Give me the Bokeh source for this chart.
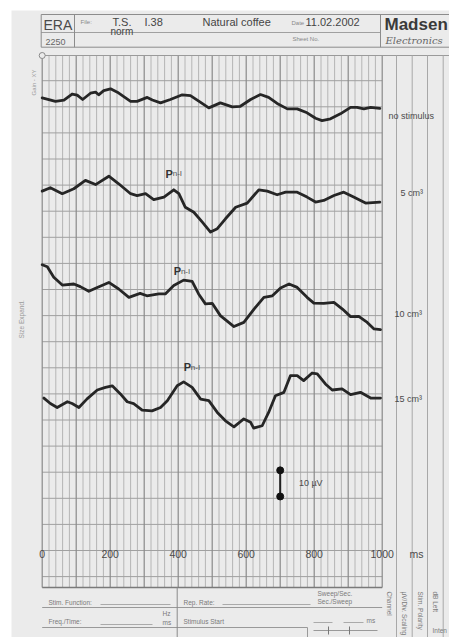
import math
from bokeh.plotting import figure
from bokeh.models import Range1d
from bokeh.core.properties import value
from bokeh.embed import file_html
from bokeh.resources import INLINE

# ---------------- data ----------------
trace_names = ["no stimulus", "5 cm³", "10 cm³", "15 cm³"]
trace_offsets = [170, 140, 100, 60]          # µV position of each trace baseline on the grid

t_no_stim = [0, 39, 64, 88, 103, 119, 142, 157, 166, 181, 201, 221, 260, 279, 309, 324, 348, 377,
             412, 436, 466, 490, 524, 559, 583, 613, 642, 666, 691, 721, 750, 779, 804, 823, 848,
             877, 907, 926, 946, 966, 993]
v_no_stim = [3.4, 2.1, 2.6, 4.9, 4.5, 2.8, 5.2, 5.6, 4.6, 6.2, 6.9, 5.6, 2.1, 2.1, 3.6, 2.6, 1.5, 2.8,
             4.6, 4.3, 1.7, -0.4, 1.5, 0.0, 0.2, 2.8, 4.7, 3.6, 1.3, -0.8, -0.8, -2.3, -4.4, -5.3, -4.6,
             -2.7, -0.2, -0.2, -0.8, -0.2, -0.6]

t_5cm = [0, 24, 59, 93, 127, 157, 196, 225, 260, 279, 304, 328, 358, 387, 402, 421, 446, 471, 495,
         515, 539, 569, 603, 637, 662, 691, 716, 750, 779, 804, 828, 858, 887, 916, 951, 993]
v_5cm = [-2.3, -1.0, -3.3, -1.4, 1.8, 0.2, 3.4, 0.5, -3.3, -4.0, -3.3, -5.6, -4.6, -1.8, -3.3, -8.5,
         -10.4, -14.2, -18.0, -16.7, -12.9, -8.5, -6.9, -1.8, -2.3, -3.7, -2.7, -2.7, -4.6, -6.5, -5.9,
         -4.0, -2.7, -4.6, -6.9, -6.5]

t_10cm = [0, 15, 34, 59, 93, 112, 137, 162, 196, 225, 255, 288, 308, 343, 362, 387, 416, 441, 460,
          480, 500, 524, 564, 593, 623, 652, 677, 701, 726, 750, 779, 799, 828, 858, 883, 907, 931,
          956, 976, 995]
v_10cm = [9.5, 8.7, 4.7, 1.7, 2.1, 1.1, -0.7, 0.8, 2.7, 0.2, -3.0, -1.5, -2.4, -1.7, -1.7, 1.5, 3.6,
          3.1, -1.7, -5.5, -5.3, -10.0, -14.2, -12.6, -7.5, -3.0, -2.4, 0.6, 2.1, 0.8, -3.0, -5.2,
          -5.3, -4.9, -7.5, -10.4, -10.3, -12.6, -15.1, -15.4]

t_15cm = [5, 24, 44, 74, 88, 108, 132, 162, 186, 206, 230, 250, 269, 294, 323, 348, 368, 397, 416,
          441, 466, 490, 515, 539, 564, 593, 613, 622, 647, 666, 686, 711, 730, 750, 769, 794, 809,
          833, 853, 882, 907, 936, 966, 995]
v_15cm = [-1.6, -3.7, -5.2, -3.0, -3.7, -5.2, -1.9, 1.5, 2.5, 3.1, 0.0, -3.0, -3.7, -6.2, -6.5, -5.2,
          -2.6, 3.1, 4.6, 2.5, -2.0, -2.6, -7.1, -10.3, -12.6, -9.6, -10.9, -13.1, -12.2, -7.1, -0.7,
          0.6, 7.0, 7.0, 5.1, 8.0, 7.7, 3.8, 1.5, 1.9, -0.3, 0.6, -1.6, -1.6]

traces_t = [t_no_stim, t_5cm, t_10cm, t_15cm]
traces_v = [v_no_stim, v_5cm, v_10cm, v_15cm]

# P(n-I) peak labels: (ms, µV on grid)
peak_label_ms = [363, 387, 416]
peak_label_uv = [144.4, 107.0, 70.2]

x_tick_values = [0, 200, 400, 600, 800, 1000]
x_tick_labels = ["0", "200", "400", "600", "800", "1000"]
x_unit = "ms"

scale_bar_ms = 700
scale_bar_uv = 10
scale_bar_bottom = 20.7
scale_bar_label = "10 µV"

# ---------------- page geometry ----------------
W, H = 449, 637
PX0, PXMS = 41.7, 0.34     # pixel of 0 ms, pixels per ms
PY0, PYUV = 550.0, 2.61    # pixel of 0 µV grid line, pixels per µV


def dx(px):
    return (px - PX0) / PXMS


def dy(py):
    return (PY0 - py) / PYUV


p = figure(width=W, height=H, x_range=Range1d(dx(0), dx(W)), y_range=Range1d(dy(H), dy(0)),
           output_backend="svg", toolbar_location=None, min_border=0,
           x_axis_location=None, y_axis_location=None)
p.grid.visible = False
p.outline_line_color = None
p.background_fill_color = "white"
p.border_fill_color = "white"

PAPER = "#ebebeb"
FONT = "Liberation Sans"

p.quad(left=[dx(11)], right=[dx(W)], top=[dy(10)], bottom=[dy(H)], fill_color=PAPER, line_color=None)


def hline(px0, px1, py, color="#8c8c8c", width=1.0):
    p.segment(x0=[dx(px0)], x1=[dx(px1)], y0=[dy(py)], y1=[dy(py)], line_color=color, line_width=width)


def vline(px, py0, py1, color="#8c8c8c", width=1.0):
    p.segment(x0=[dx(px)], x1=[dx(px)], y0=[dy(py0)], y1=[dy(py1)], line_color=color, line_width=width)


def txt(px, py, s, size=9, color="#555555", align="left", baseline="middle", style="normal",
        font=FONT, angle=0.0):
    p.text(x=[dx(px)], y=[dy(py)], text=[s], text_font=value(font), text_font_size=f"{size}px",
           text_color=color, text_align=align, text_baseline=baseline, text_font_style=style,
           angle=angle)


# ---------------- grid ----------------
grid_top = dy(55)
grid_bottom = dy(587)
major = list(range(0, 1001, 100))
minor = [t for t in range(20, 1000, 20) if t % 100]
p.segment(x0=minor, x1=minor, y0=[grid_bottom] * len(minor), y1=[grid_top] * len(minor),
          line_color="#b6b6b6", line_width=1)
hlev = list(range(-10, 181, 10))
p.segment(x0=[0] * len(hlev), x1=[1000] * len(hlev), y0=hlev, y1=hlev, line_color="#a0a0a0", line_width=1)
p.segment(x0=major, x1=major, y0=[grid_bottom] * len(major), y1=[grid_top] * len(major),
          line_color="#8a8a8a", line_width=1.2)
p.segment(x0=[0], x1=[1000], y0=[grid_bottom], y1=[grid_bottom], line_color="#7a7a7a", line_width=1.6)
hline(PX0, W, 55, color="#9a9a9a")
for cx in [396, 411.7, 427, 442.7]:
    vline(cx, 55, H, color="#a8a8a8")
p.scatter(x=[0], y=[grid_top], size=6, fill_color=PAPER, line_color="#8a8a8a")

# ---------------- header ----------------
hline(40.7, W, 14)
hline(40.7, W, 46.7)
hline(40.7, 380, 32, color="#a0a0a0")
vline(40.7, 14, 46.7)
vline(74, 14, 46.7)
vline(380, 14, 46.7)
txt(43, 24, "ERA", size=14, color="#4a4a4a")
txt(45, 41, "2250", size=9, color="#666666")
txt(80, 21, "File:", size=6, color="#888888")
txt(112, 21, "T.S.", size=11, color="#454545")
txt(144, 21, "I.38", size=11, color="#454545")
txt(202, 21, "Natural coffee", size=11, color="#454545")
txt(291, 22, "Date", size=6, color="#888888")
txt(305, 21, "11.02.2002", size=11, color="#454545")
txt(110, 31, "norm", size=10, color="#454545")
txt(292, 38, "Sheet No.", size=6, color="#888888")
txt(384, 24, "Madsen", size=17, color="#3a3a3a", style="bold")
txt(385, 40, "Electronics", size=10, color="#666666", style="italic", font="DejaVu Serif")

# left margin
txt(33, 95, "Gain - XY", size=6, color="#9a9a9a", angle=math.pi / 2)
txt(21, 338, "Size Expand.", size=6.5, color="#9a9a9a", angle=math.pi / 2)

# ---------------- traces ----------------
for t, v, off in zip(traces_t, traces_v, trace_offsets):
    p.line(x=t, y=[off + a for a in v], line_color="#262626", line_width=2.8,
           line_join="round", line_cap="round")

# right labels
label_dy = [-3.7, -3.2, -9.2, -1.8]
label_px = [388, 400, 394, 394]
for name, off, ddy, lx in zip(trace_names, trace_offsets, label_dy, label_px):
    p.text(x=[dx(lx)], y=[off + ddy], text=[name], text_font=value(FONT), text_font_size="9px",
           text_color="#4a4a4a", text_align="left", text_baseline="middle")

# P n-I labels
for lx, ly in zip(peak_label_ms, peak_label_uv):
    p.text(x=[lx], y=[ly], text=["P"], text_font=value(FONT), text_font_size="11px",
           text_font_style="bold", text_color="#333333", text_align="left", text_baseline="alphabetic")
    p.text(x=[lx + 21], y=[ly], text=["n-I"], text_font=value(FONT), text_font_size="8px",
           text_color="#555555", text_align="left", text_baseline="alphabetic")

# scale bar
p.segment(x0=[scale_bar_ms], x1=[scale_bar_ms], y0=[scale_bar_bottom],
          y1=[scale_bar_bottom + scale_bar_uv], line_color="#222222", line_width=2)
p.scatter(x=[scale_bar_ms, scale_bar_ms], y=[scale_bar_bottom, scale_bar_bottom + scale_bar_uv],
          size=7, fill_color="#111111", line_color="#111111")
p.text(x=[scale_bar_ms + 55], y=[scale_bar_bottom + scale_bar_uv / 2], text=[scale_bar_label],
       text_font=value(FONT), text_font_size="9px", text_color="#4a4a4a",
       text_align="left", text_baseline="middle")

# x tick labels
p.text(x=x_tick_values, y=[dy(553)] * len(x_tick_values), text=x_tick_labels, text_font=value(FONT),
       text_font_size="10.5px", text_color="#4a4a4a", text_align="center", text_baseline="middle")
txt(409, 553, x_unit, size=10.5, color="#4a4a4a")

# ---------------- footer form ----------------
hline(PX0, 381.7, 607, color="#999999")
hline(PX0, 307, 627, color="#999999")
vline(176.7, 587, H, color="#8a8a8a")
vline(307, 627, H, color="#999999")
FS = 6.5
FC = "#7a7a7a"
txt(48, 602, "Stim. Function:", size=FS, color=FC)
hline(100, 170, 604, color="#aaaaaa")
txt(183, 602, "Rep. Rate:", size=FS, color=FC)
hline(222, 310, 604, color="#aaaaaa")
txt(317, 592.5, "Sweep/Sec.", size=FS, color=FC)
txt(317, 601, "Sec./Sweep", size=FS, color=FC)
txt(48, 621, "Freq./Time:", size=FS, color=FC)
hline(100, 152, 624, color="#aaaaaa")
txt(162, 613, "Hz", size=FS, color=FC)
txt(162, 622, "ms", size=FS, color=FC)
txt(183, 620.5, "Stimulus Start", size=FS, color=FC)
txt(366, 620, "ms", size=FS, color=FC)
hline(313, 332, 622, color="#aaaaaa")
hline(343, 363, 622, color="#aaaaaa")
hline(313, 377, 630, color="#999999")
vline(328, 626, 634, color="#777777")
vline(349, 626, 634, color="#777777")
txt(389, 591, "Channel", size=FS, color=FC, angle=-math.pi / 2)
txt(404, 591, "µV/Div. Scaling", size=FS, color=FC, angle=-math.pi / 2)
txt(419.5, 591, "Stim. Polarity", size=FS, color=FC, angle=-math.pi / 2)
txt(435, 591, "dB Left", size=FS, color=FC, angle=-math.pi / 2)
txt(432, 630, "Inten", size=FS, color=FC)

open("out.html", "w").write(file_html(p, INLINE))
